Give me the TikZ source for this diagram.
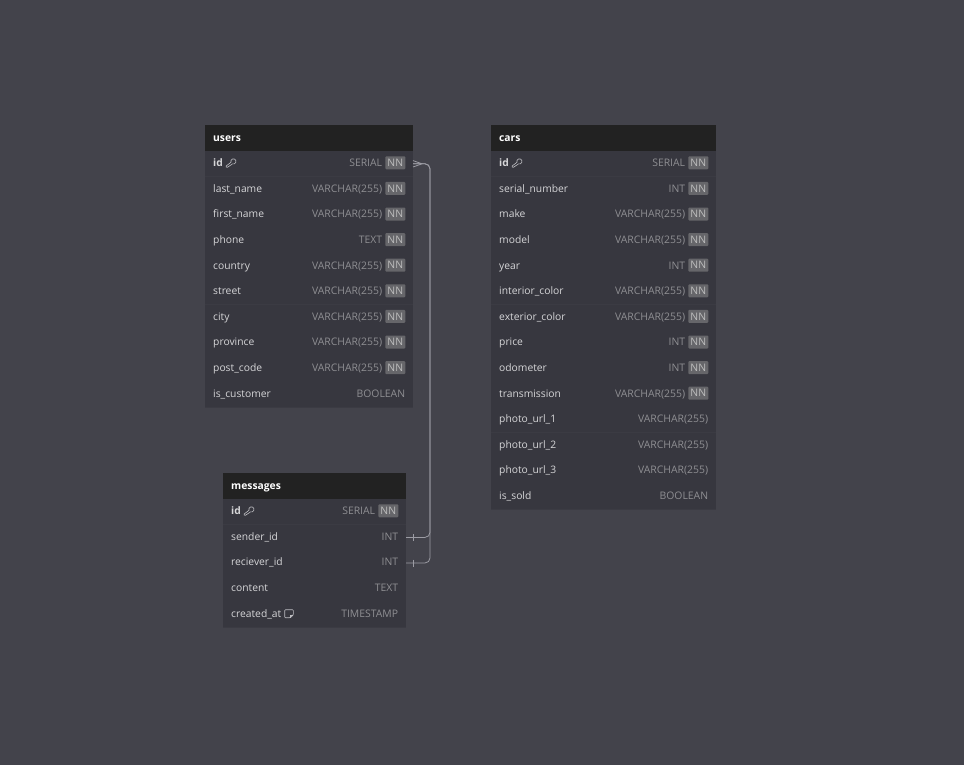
\documentclass[tikz,border=0pt]{standalone}
\usepackage{fontspec}
\setmainfont{Open Sans}
\usetikzlibrary{positioning}

\definecolor{pagebg}{HTML}{43434B}
\definecolor{headbg}{HTML}{222222}
\definecolor{rowbg}{HTML}{37373F}
\definecolor{rowsep}{HTML}{3B3B43}
\definecolor{nametext}{HTML}{D6D6D8}
\definecolor{typetext}{HTML}{8F8F93}
\definecolor{badgebg}{HTML}{66666A}
\definecolor{badgetext}{HTML}{BDBDBD}
\definecolor{linkline}{HTML}{9C9CA4}
\definecolor{iconline}{HTML}{BEBEC2}

\tikzset{
  headbox/.style={fill=headbg,anchor=north west,inner sep=0pt,outer sep=0pt,minimum height=26pt},
  rowbox/.style={fill=rowbg,inner sep=0pt,outer sep=0pt,minimum height=25.6pt},
  rowline/.style={rowsep,line width=.5pt},
  headtext/.style={text=white,font=\fontsize{10.3}{12}\selectfont\bfseries,anchor=west,inner sep=0pt,text height=7.5pt,text depth=2.5pt},
  nametxt/.style={text=nametext,font=\fontsize{10.3}{12}\selectfont,anchor=west,inner sep=0pt,text height=7.5pt,text depth=2.5pt},
  typetxt/.style={text=typetext,font=\fontsize{10.4}{12}\selectfont,anchor=east,inner sep=0pt,text height=7.5pt,text depth=2.5pt},
  nnbadge/.style={fill=badgebg,text=badgetext,font=\fontsize{10.4}{12}\selectfont,anchor=east,inner sep=0pt,
    minimum width=20pt,minimum height=13pt,rounded corners=1pt},
  link/.style={linkline,line width=.8pt},
  icon/.style={iconline,line width=.6pt},
  pics/keyicon/.style={code={
    \draw[icon] (.9,-1) arc (200:-110:2.6pt) -- (-2.6,4) -- (-3.8,3.8) -- (-3.8,2.6) -- cycle;
  }},
  pics/noteicon/.style={code={
    \draw[icon,rounded corners=.8pt] (-4.3,-4) -- (4.3,-4) -- (4.3,1.2) -- (1.4,4) -- (-4.3,4) -- cycle;
    \draw[icon] (4.3,1.2) -- (1.4,1.2) -- (1.4,4);
  }}
}

% one row of a table, #1 row node, #2 name, #3 type, #4 has NN badge
\newcommand{\dbrow}[4]{
  \node[nametxt] (#1n) at ([xshift=8pt,yshift=-.3pt]#1.west) {#2};
  \ifnum#4=1
    \node[nnbadge] (#1b) at ([xshift=-7.5pt,yshift=1pt]#1.east) {NN};
    \node[typetxt] (#1t) at ([xshift=-2.8pt,yshift=-1.3pt]#1b.west) {#3};
  \else
    \node[typetxt] (#1t) at ([xshift=-7.7pt,yshift=-.3pt]#1.east) {#3};
  \fi
  \draw[rowline] (#1.south west) -- (#1.south east);
}

\begin{document}
\begin{tikzpicture}[x=1pt,y=-1pt]
  \fill[pagebg] (0,0) rectangle (964,765);

  % users
  \node[headbox,minimum width=208pt] (users0) at (205,125) {};
  \node[headtext] (usershead) at ([xshift=8pt,yshift=-1pt]users0.west) {users};
  \foreach \nam/\typ/\nn [count=\i, remember=\i as \j (initially 0)] in {
    \textbf{id}/SERIAL/1, last\_name/VARCHAR(255)/1, first\_name/VARCHAR(255)/1,
    phone/TEXT/1, country/VARCHAR(255)/1, street/VARCHAR(255)/1, city/VARCHAR(255)/1,
    province/VARCHAR(255)/1, post\_code/VARCHAR(255)/1, is\_customer/BOOLEAN/0}
  {
    \node[rowbox,minimum width=208pt,below=0pt of users\j] (users\i) {};
    \dbrow{users\i}{\nam}{\typ}{\nn}
  }

  % cars
  \node[headbox,minimum width=225pt] (cars0) at (491,125) {};
  \node[headtext] (carshead) at ([xshift=8pt,yshift=-1pt]cars0.west) {cars};
  \foreach \nam/\typ/\nn [count=\i, remember=\i as \j (initially 0)] in {
    \textbf{id}/SERIAL/1, serial\_number/INT/1, make/VARCHAR(255)/1, model/VARCHAR(255)/1,
    year/INT/1, interior\_color/VARCHAR(255)/1, exterior\_color/VARCHAR(255)/1, price/INT/1,
    odometer/INT/1, transmission/VARCHAR(255)/1, photo\_url\_1/VARCHAR(255)/0,
    photo\_url\_2/VARCHAR(255)/0, photo\_url\_3/VARCHAR(255)/0, is\_sold/BOOLEAN/0}
  {
    \node[rowbox,minimum width=225pt,below=0pt of cars\j] (cars\i) {};
    \dbrow{cars\i}{\nam}{\typ}{\nn}
  }

  % messages
  \node[headbox,minimum width=183pt] (messages0) at (223,473) {};
  \node[headtext] (messageshead) at ([xshift=8pt,yshift=-1pt]messages0.west) {messages};
  \foreach \nam/\typ/\nn [count=\i, remember=\i as \j (initially 0)] in {
    \textbf{id}/SERIAL/1, sender\_id/INT/0, reciever\_id/INT/0,
    content/TEXT/0, created\_at/TIMESTAMP/0}
  {
    \node[rowbox,minimum width=183pt,below=0pt of messages\j] (messages\i) {};
    \dbrow{messages\i}{\nam}{\typ}{\nn}
  }

  \pic at ([xshift=7pt,yshift=.8pt]users1n.east) {keyicon};
  \pic at ([xshift=7pt,yshift=.8pt]cars1n.east) {keyicon};
  \pic at ([xshift=7pt,yshift=.8pt]messages1n.east) {keyicon};
  \pic at ([xshift=7.5pt,yshift=.8pt]messages5n.east) {noteicon};

  \coordinate (bus) at (430,350);
  \foreach \from/\to in {users1/messages2, users1/messages3}
    \draw[link,rounded corners=5pt] (\from.east) -| (bus) |- (\to.east);

  % crow foot at users, bars at messages
  \draw[link] ([yshift=3.2pt]users1.east) -- ([xshift=9pt]users1.east) -- ([yshift=-3.2pt]users1.east);
  \foreach \to in {messages2, messages3}
    \draw[link] ([xshift=7pt,yshift=3.5pt]\to.east) -- ([xshift=7pt,yshift=-3.5pt]\to.east);
\end{tikzpicture}
\end{document}
